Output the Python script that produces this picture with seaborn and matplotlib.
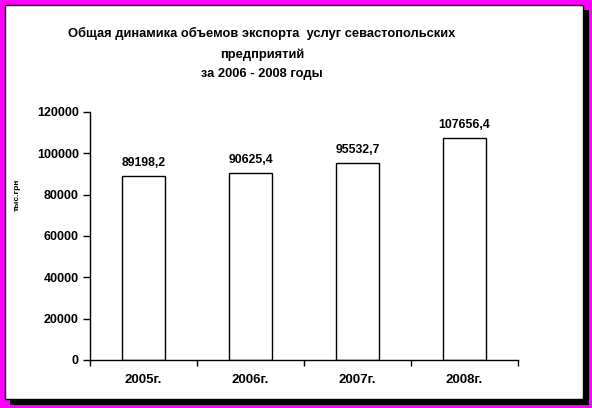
import matplotlib
matplotlib.use('Agg')
import matplotlib.pyplot as plt
from matplotlib.patches import Rectangle
import seaborn as sns
import pandas as pd

years = ['2005г.', '2006г.', '2007г.', '2008г.']
values = [89198.2, 90625.4, 95532.7, 107656.4]
value_labels = ['89198,2', '90625,4', '95532,7', '107656,4']
yticks = [0, 20000, 40000, 60000, 80000, 100000, 120000]

sns.set_style('white')
plt.rcParams['font.family'] = ['Liberation Sans', 'DejaVu Sans']
plt.rcParams['font.weight'] = 'bold'
plt.rcParams['text.color'] = 'black'
plt.rcParams['xtick.color'] = 'black'
plt.rcParams['ytick.color'] = 'black'

W, H = 592, 408
fig = plt.figure(figsize=(W / 100, H / 100), dpi=100, facecolor='#ff00ff')

def px_rect(x0, y0, x1, y1, z, **kw):
    # rectangle given in pixel coords from top-left
    r = Rectangle((x0 / W, 1 - y1 / H), (x1 - x0) / W, (y1 - y0) / H,
                  transform=fig.transFigure, zorder=z, **kw)
    fig.patches.append(r)

# shadow + white frame
px_rect(10, 10, 589, 405, -3, facecolor='black', edgecolor='none')
px_rect(5, 5, 583, 399, -2, facecolor='white', edgecolor='black', linewidth=1)

ax = fig.add_axes([90 / W, 1 - 360 / H, (518 - 90) / W, (360 - 112) / H])
ax.set_facecolor('none')

df = pd.DataFrame({'year': years, 'value': values})
sns.barplot(data=df, x='year', y='value', color='white', edgecolor='black',
            linewidth=1, width=0.4, saturation=1, ax=ax)
for p in ax.patches:
    p.set_facecolor('white')

ax.set_xlim(-0.5, 3.5)
ax.set_ylim(0, 120000)
ax.set_yticks(yticks)
ax.set_yticklabels([str(t) for t in yticks], fontsize=9, fontweight='bold')
ax.set_xticks([-0.5, 0.5, 1.5, 2.5, 3.5], minor=False)
ax.set_xticklabels([])
ax.set_xticks(range(len(years)), minor=True)
ax.set_xticklabels(years, minor=True, fontsize=9.5, fontweight='bold')
ax.tick_params(axis='x', which='major', bottom=True, direction='out', length=4,
               width=1, color='black')
ax.tick_params(axis='x', which='minor', bottom=True, length=0, pad=10)
ax.tick_params(axis='y', left=True, direction='out', length=5, width=1,
               color='black', pad=3)
ax.set_xlabel('')
ax.set_ylabel('')

for s in ['top', 'right']:
    ax.spines[s].set_visible(False)
for s in ['left', 'bottom']:
    ax.spines[s].set_color('black')
    ax.spines[s].set_linewidth(1)

for i, (v, lab) in enumerate(zip(values, value_labels)):
    ax.annotate(lab, (i, v), xytext=(0, 9), textcoords='offset points',
                ha='center', va='center', fontsize=8.8, fontweight='bold')

fig.text(17 / W, 1 - 195 / H, 'тыс.грн', rotation=90, ha='center', va='center',
         fontsize=6, fontweight='bold')

title_lines = ['Общая динамика объемов экспорта  услуг севастопольских',
               'предприятий', 'за 2006 - 2008 годы']
for line, yy in zip(title_lines, [33, 55, 74]):
    fig.text(262 / W, 1 - yy / H, line, ha='center', va='center',
             fontsize=9.3, fontweight='bold')

fig.savefig('out.png', dpi=100, facecolor=fig.get_facecolor())
